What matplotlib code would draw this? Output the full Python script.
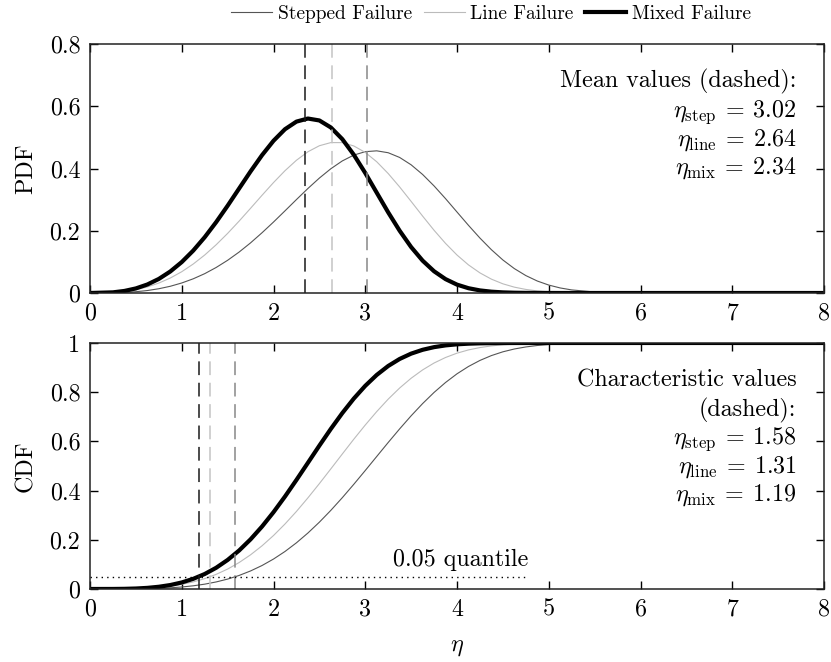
import matplotlib
matplotlib.use("Agg")
import matplotlib.pyplot as plt

plt.rcParams["font.family"] = "serif"
plt.rcParams["font.serif"] = ["cmr10"]
plt.rcParams["mathtext.fontset"] = "cm"
plt.rcParams["axes.formatter.use_mathtext"] = True
plt.rcParams["font.size"] = 17.3

# eta grid
eta = [0, 0.25, 0.375, 0.5, 0.625, 0.75, 0.875, 1.0, 1.125, 1.25, 1.375, 1.5, 1.625, 1.75,
       1.875, 2.0, 2.125, 2.25, 2.375, 2.5, 2.625, 2.75, 2.875, 3.0, 3.125, 3.25, 3.375,
       3.5, 3.625, 3.75, 3.875, 4.0, 4.125, 4.25, 4.375, 4.5, 4.625, 4.75, 4.875, 5.0,
       5.125, 5.25, 5.5, 5.75, 6.0, 8.0]

pdf_step = [0, 0.0005, 0.0017, 0.0041, 0.0079, 0.0137, 0.0216, 0.0322, 0.0456, 0.0621,
            0.0820, 0.1051, 0.1315, 0.1611, 0.1936, 0.2280, 0.2639, 0.3002, 0.3358, 0.3693,
            0.3993, 0.4244, 0.4431, 0.4541, 0.4568, 0.4507, 0.4355, 0.4119, 0.3809, 0.3440,
            0.3032, 0.2602, 0.2174, 0.1765, 0.1391, 0.1061, 0.0784, 0.0560, 0.0385, 0.0255,
            0.0162, 0.0099, 0.0032, 0.0009, 0.0002, 0]
pdf_line = [0, 0.0017, 0.0049, 0.0107, 0.0195, 0.0319, 0.0481, 0.0684, 0.0931, 0.1220,
            0.1550, 0.1915, 0.2309, 0.2722, 0.3140, 0.3548, 0.3929, 0.4265, 0.4538, 0.4732,
            0.4833, 0.4832, 0.4725, 0.4517, 0.4217, 0.3839, 0.3407, 0.2943, 0.2472, 0.2015,
            0.1594, 0.1220, 0.0903, 0.0646, 0.0445, 0.0295, 0.0188, 0.0115, 0.0067, 0.0037,
            0.0020, 0.0010, 0.0002, 0, 0, 0]
pdf_mix = [0, 0.0021, 0.0066, 0.0147, 0.0273, 0.0452, 0.0691, 0.0994, 0.1362, 0.1792,
           0.2277, 0.2804, 0.3356, 0.3907, 0.4429, 0.4891, 0.5262, 0.5507, 0.5606, 0.5544,
           0.5319, 0.4943, 0.4443, 0.3856, 0.3223, 0.2591, 0.2000, 0.1476, 0.1040, 0.0698,
           0.0446, 0.0269, 0.0154, 0.0083, 0.0042, 0.0020, 0.0009, 0.0004, 0.0002, 0.0001,
           0, 0, 0, 0, 0, 0]

cdf_step = [0, 0.0000, 0.0002, 0.0005, 0.0012, 0.0026, 0.0047, 0.0081, 0.0129, 0.0196,
            0.0286, 0.0402, 0.0550, 0.0733, 0.0954, 0.1217, 0.1524, 0.1877, 0.2275, 0.2716,
            0.3197, 0.3712, 0.4255, 0.4816, 0.5386, 0.5955, 0.6509, 0.7040, 0.7536, 0.7990,
            0.8394, 0.8747, 0.9045, 0.9291, 0.9488, 0.9641, 0.9756, 0.9839, 0.9898, 0.9937,
            0.9963, 0.9979, 0.9994, 0.9999, 1.0, 1.0]
cdf_line = [0, 0.0001, 0.0005, 0.0015, 0.0033, 0.0065, 0.0114, 0.0187, 0.0287, 0.0421,
            0.0594, 0.0810, 0.1074, 0.1389, 0.1755, 0.2173, 0.2641, 0.3152, 0.3704, 0.4284,
            0.4883, 0.5488, 0.6088, 0.6665, 0.7211, 0.7717, 0.8170, 0.8567, 0.8905, 0.9186,
            0.9410, 0.9586, 0.9718, 0.9814, 0.9881, 0.9927, 0.9957, 0.9976, 0.9987, 0.9993,
            0.9997, 0.9998, 1.0, 1.0, 1.0, 1.0]
cdf_mix = [0, 0.0001, 0.0006, 0.0019, 0.0045, 0.0090, 0.0160, 0.0265, 0.0412, 0.0608,
           0.0862, 0.1180, 0.1564, 0.2018, 0.2539, 0.3122, 0.3758, 0.4433, 0.5129, 0.5828,
           0.6508, 0.7151, 0.7739, 0.8258, 0.8701, 0.9065, 0.9351, 0.9567, 0.9723, 0.9831,
           0.9902, 0.9946, 0.9972, 0.9986, 0.9993, 0.9997, 0.9999, 1.0, 1.0, 1.0,
           1.0, 1.0, 1.0, 1.0, 1.0, 1.0]

labels = ["Stepped Failure", "Line Failure", "Mixed Failure"]
mean_vals = [3.02, 2.64, 2.34]
char_vals = [1.58, 1.31, 1.19]
subs = ["step", "line", "mix"]
quantile = 0.05

colors = ["#555555", "#bbbbbb", "#000000"]
dash_colors = ["#888888", "#c4c4c4", "#1a1a1a"]
widths = [0.8, 0.8, 3.0]

fig = plt.figure(figsize=(8.31, 6.62), dpi=100)
ax1 = fig.add_axes([0.1083, 0.5574, 0.8833, 0.3761])
ax2 = fig.add_axes([0.1083, 0.1103, 0.8833, 0.3716])

handles = []
for ys, c, w, lab in zip([pdf_step, pdf_line, pdf_mix], colors, widths, labels):
    h, = ax1.plot(eta, ys, color=c, lw=w, label=lab)
    handles.append(h)
for ys, c, w in zip([cdf_step, cdf_line, cdf_mix], colors, widths):
    ax2.plot(eta, ys, color=c, lw=w)

for v, c in zip(mean_vals, dash_colors):
    ax1.axvline(v, color=c, lw=1.1, dashes=(9, 5))
for v, c in zip(char_vals, dash_colors):
    ax2.axvline(v, color=c, lw=1.1, dashes=(9, 5))

ax2.plot([0, 4.75], [quantile, quantile], color="black", lw=1.0, dashes=(1, 3))
ax2.text(4.78, 0.093, "0.05 quantile", ha="right", va="baseline")

# annotations
ax1.text(7.7, 0.66, "Mean values (dashed):", ha="right", va="baseline")
for i, (s, v) in enumerate(zip(subs, mean_vals)):
    ax1.text(7.7, 0.566 - i * 0.092, r"$\eta_{\mathrm{%s}}\:=\:%.2f$" % (s, v),
             ha="right", va="baseline")

ax2.text(7.7, 0.822, "Characteristic values", ha="right", va="baseline")
ax2.text(7.7, 0.702, "(dashed):", ha="right", va="baseline")
for i, (s, v) in enumerate(zip(subs, char_vals)):
    ax2.text(7.7, 0.588 - i * 0.115, r"$\eta_{\mathrm{%s}}\:=\:%.2f$" % (s, v),
             ha="right", va="baseline")

for ax, ymax, yt, ytl in [(ax1, 0.8, [0, 0.2, 0.4, 0.6, 0.8], ["0", "0.2", "0.4", "0.6", "0.8"]),
                          (ax2, 1.0, [0, 0.2, 0.4, 0.6, 0.8, 1.0], ["0", "0.2", "0.4", "0.6", "0.8", "1"])]:
    ax.set_xlim(0, 8)
    ax.set_ylim(0, ymax)
    ax.set_xticks(range(9))
    ax.set_xticklabels([str(i) for i in range(9)])
    ax.set_yticks(yt)
    ax.set_yticklabels(ytl)
    ax.tick_params(direction="in", length=6, width=1.0, top=True, right=True, pad=7)
    for sp in ax.spines.values():
        sp.set_linewidth(1.1)
        sp.set_color("#222222")

ax1.set_ylabel("PDF")
ax2.set_ylabel("CDF")
ax1.yaxis.set_label_coords(-0.072, 0.5)
ax2.yaxis.set_label_coords(-0.072, 0.5)
ax2.set_xlabel(r"$\eta$")
ax2.xaxis.set_label_coords(0.5, -0.19)

fig.legend(handles=handles, loc="center", bbox_to_anchor=(0.591, 0.979), ncol=3,
           frameon=False, fontsize=14, handlelength=2.1, handletextpad=0.3,
           columnspacing=0.6, borderaxespad=0, borderpad=0)

fig.savefig("out.png", dpi=100)
